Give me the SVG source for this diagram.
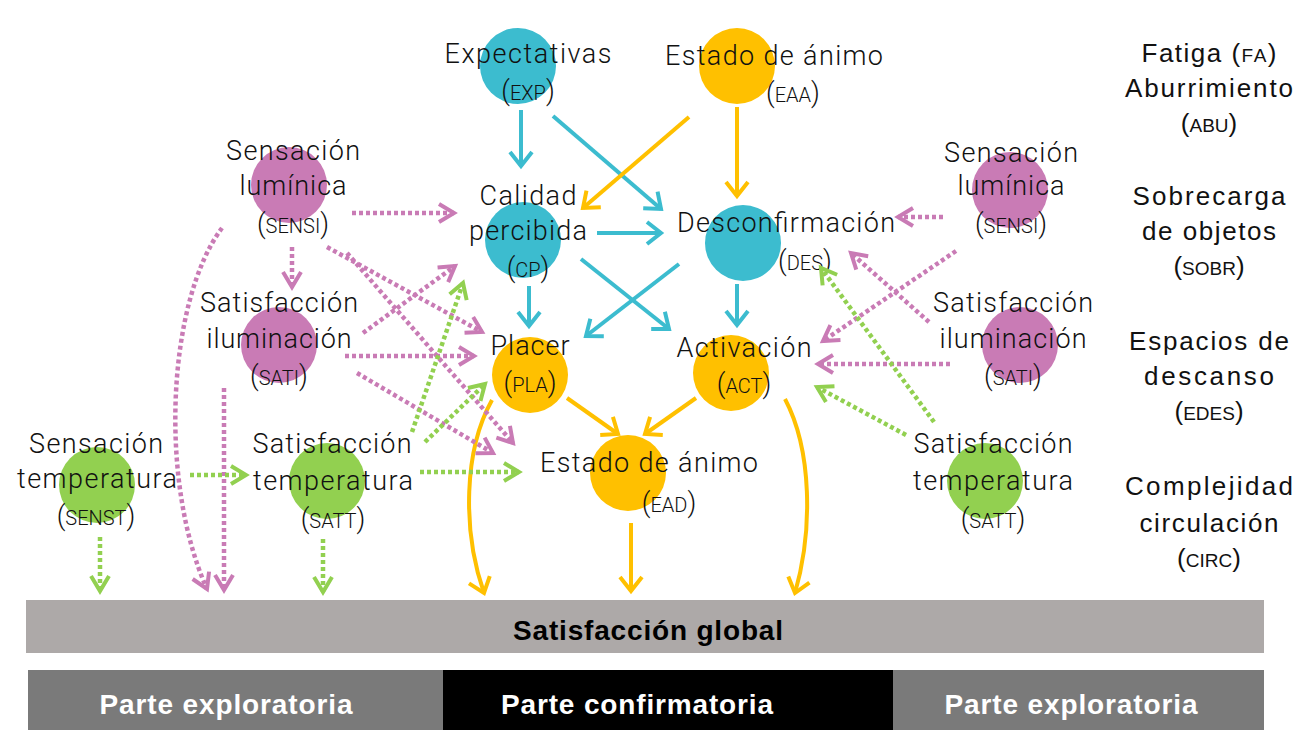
<svg xmlns="http://www.w3.org/2000/svg" width="1299" height="749" viewBox="0 0 1299 749">
<style>
.t{font-family:Roboto,"Liberation Sans",sans-serif;font-weight:300;font-size:27px;fill:#111;text-anchor:middle}
.sc{font-size:20px}
.r{font-family:"Liberation Sans",Arial,sans-serif;font-size:26px;fill:#111;text-anchor:middle}
.rs{font-size:19px}
.b{font-family:"Liberation Sans",Arial,sans-serif;font-weight:bold;font-size:28px;text-anchor:middle}
.teal{fill:#3CBCCF}.yel{fill:#FFC000}.pur{fill:#C97BB5}.grn{fill:#92D050}
.lt{fill:none;stroke:#3CBCCF;stroke-width:4;marker-end:url(#aT)}
.ly{fill:none;stroke:#FFC000;stroke-width:4;marker-end:url(#aY)}
.lp{fill:none;stroke:#C97BB5;stroke-width:4.5;stroke-dasharray:4 3;marker-end:url(#aP)}
.lg{fill:none;stroke:#92D050;stroke-width:4.5;stroke-dasharray:4 3;marker-end:url(#aG)}
</style>
<defs>
<marker id="aT" markerUnits="userSpaceOnUse" markerWidth="30" markerHeight="30" viewBox="-20 -15 25 30" refX="0" refY="0" orient="auto" overflow="visible"><path d="M-14,-11 L0,0 L-14,11" fill="none" stroke="#3CBCCF" stroke-width="4"/></marker>
<marker id="aY" markerUnits="userSpaceOnUse" markerWidth="30" markerHeight="30" viewBox="-20 -15 25 30" refX="0" refY="0" orient="auto" overflow="visible"><path d="M-14,-11 L0,0 L-14,11" fill="none" stroke="#FFC000" stroke-width="4"/></marker>
<marker id="aP" markerUnits="userSpaceOnUse" markerWidth="30" markerHeight="30" viewBox="-20 -15 25 30" refX="0" refY="0" orient="auto" overflow="visible"><path d="M-15,-9 L0,0 L-15,9" fill="none" stroke="#C97BB5" stroke-width="4"/></marker>
<marker id="aG" markerUnits="userSpaceOnUse" markerWidth="30" markerHeight="30" viewBox="-20 -15 25 30" refX="0" refY="0" orient="auto" overflow="visible"><path d="M-15,-9 L0,0 L-15,9" fill="none" stroke="#92D050" stroke-width="4"/></marker>
</defs>
<rect width="1299" height="749" fill="#fff"/>

<g id="node-exp"><circle class="teal" cx="518" cy="66" r="38"/><text class="t" x="528" y="63" textLength="167">Expectativas</text><text class="t" x="528" y="100">(<tspan class="sc">EXP</tspan>)</text></g>
<g id="node-eaa"><circle class="yel" cx="737" cy="66" r="38"/><text class="t" x="774" y="65" textLength="218">Estado de ánimo</text><text class="t" x="793" y="102">(<tspan class="sc">EAA</tspan>)</text></g>
<g id="node-cp"><circle class="teal" cx="523" cy="240" r="38"/><text class="t" x="528" y="205" textLength="97">Calidad</text><text class="t" x="528" y="240" textLength="118">percibida</text><text class="t" x="528" y="277">(<tspan class="sc">CP</tspan>)</text></g>
<g id="node-des"><circle class="teal" cx="743" cy="243" r="38"/><text class="t" x="786" y="232" textLength="218">Desconfirmación</text><text class="t" x="805" y="270">(<tspan class="sc">DES</tspan>)</text></g>
<g id="node-pla"><circle class="yel" cx="530" cy="375" r="38"/><text class="t" x="530" y="355" textLength="79">Placer</text><text class="t" x="530" y="392">(<tspan class="sc">PLA</tspan>)</text></g>
<g id="node-act"><circle class="yel" cx="731" cy="373" r="38"/><text class="t" x="744" y="357" textLength="135">Activación</text><text class="t" x="744" y="393">(<tspan class="sc">ACT</tspan>)</text></g>
<g id="node-ead"><circle class="yel" cx="628" cy="473" r="38"/><text class="t" x="649" y="472" textLength="218">Estado de ánimo</text><text class="t" x="669" y="512">(<tspan class="sc">EAD</tspan>)</text></g>
<g id="node-sensi-l"><circle class="pur" cx="289" cy="185" r="38"/><text class="t" x="293" y="160" textLength="134">Sensación</text><text class="t" x="293" y="195" textLength="107">lumínica</text><text class="t" x="293" y="233">(<tspan class="sc">SENSI</tspan>)</text></g>
<g id="node-sati-l"><circle class="pur" cx="279" cy="345" r="38"/><text class="t" x="279" y="312" textLength="158">Satisfacción</text><text class="t" x="279" y="348" textLength="145">iluminación</text><text class="t" x="279" y="385">(<tspan class="sc">SATI</tspan>)</text></g>
<g id="node-senst"><circle class="grn" cx="97" cy="485" r="38"/><text class="t" x="96" y="453" textLength="134">Sensación</text><text class="t" x="97" y="488" textLength="160">temperatura</text><text class="t" x="96" y="525">(<tspan class="sc">SENST</tspan>)</text></g>
<g id="node-satt-l"><circle class="grn" cx="327" cy="481" r="38"/><text class="t" x="332" y="453" textLength="159">Satisfacción</text><text class="t" x="333" y="490" textLength="160">temperatura</text><text class="t" x="333" y="528">(<tspan class="sc">SATT</tspan>)</text></g>
<g id="node-sensi-r"><circle class="pur" cx="1010" cy="190" r="38"/><text class="t" x="1011" y="162" textLength="134">Sensación</text><text class="t" x="1011" y="195" textLength="107">lumínica</text><text class="t" x="1011" y="233">(<tspan class="sc">SENSI</tspan>)</text></g>
<g id="node-sati-r"><circle class="pur" cx="1020" cy="345" r="38"/><text class="t" x="1013" y="312" textLength="160">Satisfacción</text><text class="t" x="1013" y="348" textLength="147">iluminación</text><text class="t" x="1013" y="385">(<tspan class="sc">SATI</tspan>)</text></g>
<g id="node-satt-r"><circle class="grn" cx="985" cy="481" r="38"/><text class="t" x="993" y="453" textLength="159">Satisfacción</text><text class="t" x="993" y="490" textLength="160">temperatura</text><text class="t" x="993" y="528">(<tspan class="sc">SATT</tspan>)</text></g>

<g id="legend-right">
<text class="r" x="1209" y="62" textLength="135">Fatiga (<tspan class="rs">FA</tspan>)</text>
<text class="r" x="1209" y="97" textLength="168">Aburrimiento</text>
<text class="r" x="1209" y="132">(<tspan class="rs">ABU</tspan>)</text>
<text class="r" x="1209" y="205" textLength="153">Sobrecarga</text>
<text class="r" x="1209" y="240" textLength="134">de objetos</text>
<text class="r" x="1209" y="275">(<tspan class="rs">SOBR</tspan>)</text>
<text class="r" x="1209" y="350" textLength="160">Espacios de</text>
<text class="r" x="1209" y="385" textLength="130">descanso</text>
<text class="r" x="1209" y="420">(<tspan class="rs">EDES</tspan>)</text>
<text class="r" x="1209" y="495" textLength="168">Complejidad</text>
<text class="r" x="1209" y="532" textLength="139">circulación</text>
<text class="r" x="1209" y="567">(<tspan class="rs">CIRC</tspan>)</text>
</g>

<g id="node-global"><rect x="26" y="600" width="1238" height="53" fill="#ADA9A8"/><text class="b" x="648" y="640" fill="#000" textLength="270">Satisfacción global</text></g>
<g id="band-left"><rect x="28" y="670" width="415" height="60" fill="#7A7A7A"/><text class="b" x="226" y="714" fill="#fff" textLength="253">Parte exploratoria</text></g>
<g id="band-center"><rect x="443" y="670" width="450" height="60" fill="#000"/><text class="b" x="637" y="714" fill="#fff" textLength="272">Parte confirmatoria</text></g>
<g id="band-right"><rect x="893" y="670" width="371" height="60" fill="#7A7A7A"/><text class="b" x="1071" y="714" fill="#fff" textLength="253">Parte exploratoria</text></g>

<g id="connectors">
<path class="lt" d="M521,110 L521,166"/>
<path class="lt" d="M553,116 L661,209"/>
<path class="lt" d="M597,233 L661,233"/>
<path class="lt" d="M529,286 L529,326"/>
<path class="lt" d="M581,259 L669,329"/>
<path class="lt" d="M679,264 L586,336"/>
<path class="lt" d="M737,284 L737,325"/>
<path class="ly" d="M689,117 L583,208"/>
<path class="ly" d="M737,107 L737,196"/>
<path class="ly" d="M567,398 L618,434"/>
<path class="ly" d="M696,398 L645,434"/>
<path class="ly" d="M631,523 L631,591"/>
<path class="ly" d="M492,400 C464,450 462,530 484,593"/>
<path class="ly" d="M785,399 C812,450 813,530 795,593"/>
<path class="lp" d="M352,213 L454,213"/>
<path class="lp" d="M292,247 L292,287"/>
<path class="lp" d="M327,247 L482,332"/>
<path class="lp" d="M347,253 L513,443"/>
<path class="lp" d="M363,333 L455,266"/>
<path class="lp" d="M345,356 L474,356"/>
<path class="lp" d="M357,373 L493,453"/>
<path class="lp" d="M224,388 L224,590"/>
<path class="lp" d="M222,228 C168,300 158,480 207,589"/>
<path class="lp" d="M943,217 L898,217"/>
<path class="lp" d="M956,251 L823,341"/>
<path class="lp" d="M929,322 L851,253"/>
<path class="lp" d="M950,364 L818,364"/>
<path class="lg" d="M190,475 L246,475"/>
<path class="lg" d="M100,537 L100,591"/>
<path class="lg" d="M323,539 L323,592"/>
<path class="lg" d="M420,472 L519,472"/>
<path class="lg" d="M412,432 L463,283"/>
<path class="lg" d="M425,442 L485,384"/>
<path class="lg" d="M934,422 L821,268"/>
<path class="lg" d="M906,435 L817,387"/>
</g>
</svg>
